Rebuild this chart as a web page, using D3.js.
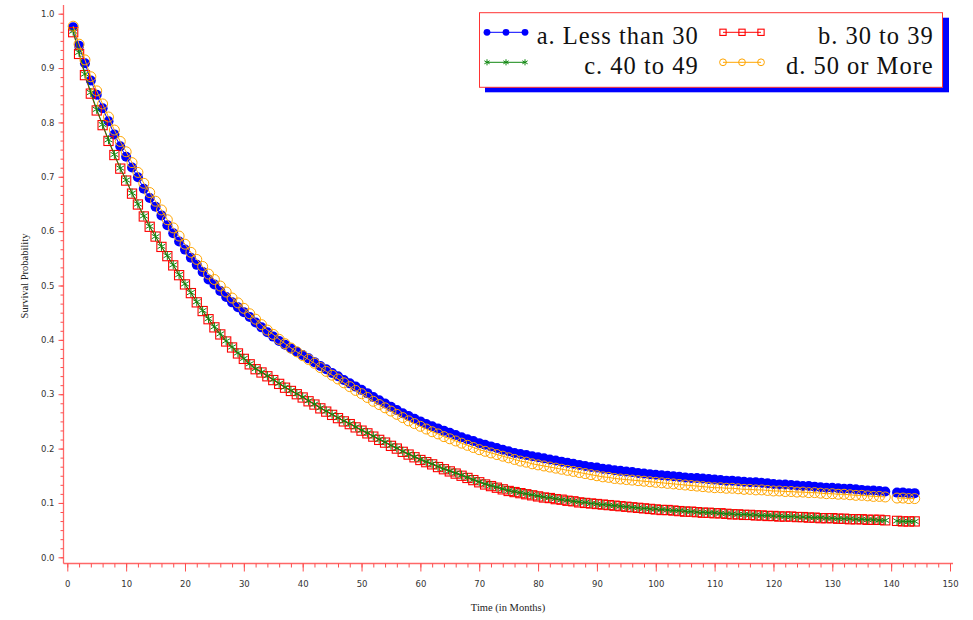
<!DOCTYPE html>
<html><head><meta charset="utf-8">
<script src="https://cdn.jsdelivr.net/npm/d3@7"></script>
<style>body{margin:0;background:#fff}svg{display:block}</style></head>
<body>
<script>
// ---------- data ----------
const months = [1,2,3,4,5,6,7,8,9,10,11,12,13,14,15,16,17,18,19,20,21,22,23,24,25,26,27,28,29,30,
31,32,33,34,35,36,37,38,39,40,41,42,43,44,45,46,47,48,49,50,51,52,53,54,55,56,57,58,59,60,
61,62,63,64,65,66,67,68,69,70,71,72,73,74,75,76,77,78,79,80,81,82,83,84,85,86,87,88,89,90,
91,92,93,94,95,96,97,98,99,100,101,102,103,104,105,106,107,108,109,110,111,112,113,114,115,116,117,118,119,120,
121,122,123,124,125,126,127,128,129,130,131,132,133,134,135,136,137,138,139,141,142,143,144];

const seriesNames = ["a. Less than 30","b. 30 to 39","c. 40 to 49","d. 50 or More"];

const survA = [.975,.941,.909,.877,.851,.826,.802,.778,.756,.737,
.717,.699,.678,.661,.645,.629,.611,.596,.581,.566,
.551,.538,.525,.511,.502,.490,.479,.469,.460,.451,
.442,.432,.423,.414,.406,.398,.391,.384,.378,.372,
.366,.359,.352,.346,.339,.333,.326,.320,.314,.308,
.302,.295,.289,.283,.277,.271,.265,.260,.255,.250,
.245,.241,.237,.233,.229,.225,.221,.217,.214,.210,
.207,.204,.201,.198,.195,.192,.190,.188,.186,.184,
.182,.180,.178,.176,.174,.172,.170,.168,.166,.165,
.163,.162,.160,.159,.158,.157,.155,.154,.153,.152,
.151,.150,.149,.148,.147,.146,.146,.145,.144,.143,
.142,.141,.141,.140,.139,.138,.138,.137,.136,.135,
.134,.134,.133,.132,.131,.131,.130,.129,.128,.128,
.127,.126,.126,.125,.124,.123,.123,.122,.121,
.119,.119,.118,.118];

const survB = [.966,.926,.887,.853,.822,.795,.766,.740,.715,.693,
.669,.649,.627,.608,.590,.571,.554,.537,.519,.502,
.486,.469,.453,.438,.423,.410,.397,.386,.375,.365,
.355,.346,.340,.333,.326,.319,.312,.306,.300,.294,
.287,.281,.274,.268,.262,.256,.250,.245,.239,.233,
.228,.222,.216,.211,.205,.200,.194,.189,.184,.179,
.175,.171,.166,.162,.158,.154,.150,.146,.142,.138,
.134,.131,.128,.125,.122,.120,.118,.116,.114,.112,
.110,.109,.107,.106,.104,.103,.101,.100,.099,.098,
.097,.096,.095,.094,.093,.092,.091,.090,.089,.088,
.087,.087,.086,.085,.084,.084,.083,.082,.082,.081,
.081,.080,.079,.079,.078,.078,.077,.077,.076,.076,
.075,.075,.075,.074,.074,.073,.073,.072,.072,.072,
.071,.071,.070,.070,.070,.069,.069,.069,.068,
.067,.066,.066,.066];

const survC = [.968,.929,.889,.855,.824,.796,.768,.741,.716,.694,
.670,.650,.628,.609,.590,.572,.555,.538,.520,.503,
.487,.470,.454,.439,.424,.411,.398,.387,.376,.366,
.356,.347,.341,.334,.327,.320,.313,.307,.301,.295,
.288,.282,.275,.269,.263,.257,.251,.246,.240,.234,
.229,.223,.217,.212,.206,.201,.195,.190,.185,.180,
.176,.172,.167,.163,.159,.155,.151,.147,.143,.139,
.135,.132,.129,.126,.123,.121,.119,.117,.115,.113,
.111,.110,.108,.106,.105,.103,.102,.101,.099,.098,
.097,.096,.095,.094,.093,.092,.091,.090,.089,.089,
.088,.087,.086,.086,.085,.084,.083,.083,.082,.082,
.081,.080,.080,.079,.079,.078,.078,.077,.077,.076,
.076,.075,.075,.074,.074,.074,.073,.073,.072,.072,
.071,.071,.071,.070,.070,.069,.069,.068,.068,
.067,.066,.066,.066];

const survD = [.977,.944,.915,.884,.858,.834,.810,.786,.765,.746,
.726,.708,.688,.671,.655,.639,.621,.606,.591,.576,
.561,.548,.535,.521,.511,.499,.488,.477,.468,.458,
.448,.438,.428,.418,.410,.401,.393,.385,.378,.371,
.364,.357,.349,.342,.335,.328,.321,.314,.307,.301,
.294,.287,.281,.275,.269,.263,.257,.251,.246,.241,
.236,.231,.227,.222,.218,.214,.210,.206,.202,.198,
.195,.192,.189,.186,.183,.180,.177,.175,.172,.170,
.168,.166,.164,.162,.160,.158,.156,.154,.152,.150,
.148,.147,.145,.144,.143,.142,.141,.140,.139,.138,
.137,.136,.135,.134,.133,.132,.131,.130,.129,.128,
.128,.127,.127,.126,.125,.125,.124,.124,.123,.122,
.122,.121,.121,.120,.120,.119,.119,.118,.117,.117,
.116,.116,.115,.114,.114,.113,.112,.112,.111,
.109,.109,.108,.108];

const xTicks = [0,10,20,30,40,50,60,70,80,90,100,110,120,130,140,150];
const yTicks = [0,0.1,0.2,0.3,0.4,0.5,0.6,0.7,0.8,0.9,1.0];
const xTitle = "Time (in Months)";
const yTitle = "Survival Probability";

// ---------- drawing ----------
const W = 973, H = 620;
const svg = d3.select("body").append("svg").attr("width", W).attr("height", H);

const x = d3.scaleLinear().domain([0,150]).range([67.3,950]);
const y = d3.scaleLinear().domain([0,1]).range([557.3,13.7]);
const axisColor = "#ff4d4d";
const labelColor = "#333";

const yAxisX = 63.5, xAxisY = 563.5;

// y axis
const gy = svg.append("g").attr("transform", `translate(${yAxisX},0)`);
gy.call(d3.axisLeft(y).tickValues(d3.range(0,61).map(i=>i/60)).tickSize(3).tickFormat(""));
gy.call(g=>g.select(".domain").remove());
const gy2 = svg.append("g").attr("transform", `translate(${yAxisX},0)`);
gy2.call(d3.axisLeft(y).tickValues(yTicks).tickSize(5).tickPadding(4).tickFormat(d3.format(".1f")));
gy2.select(".domain").remove();
[gy,gy2].forEach(g=>g.selectAll(".tick line").attr("stroke",axisColor));
gy2.selectAll(".tick text").attr("fill",labelColor).style("font-family","DejaVu Sans, Verdana, sans-serif").style("font-size","8.5px");

// x axis
const gx = svg.append("g").attr("transform", `translate(0,${xAxisY})`);
gx.call(d3.axisBottom(x).tickValues(d3.range(0,151,2)).tickSize(4).tickFormat(""));
gx.select(".domain").remove();
const gx2 = svg.append("g").attr("transform", `translate(0,${xAxisY})`);
gx2.call(d3.axisBottom(x).tickValues(xTicks).tickSize(8).tickPadding(9).tickFormat(d3.format("d")));
gx2.select(".domain").remove();
[gx,gx2].forEach(g=>g.selectAll(".tick line").attr("stroke",axisColor));
gx2.selectAll(".tick text").attr("fill",labelColor).style("font-family","DejaVu Sans, Verdana, sans-serif").style("font-size","8.5px");

// axis lines
svg.append("line").attr("x1",yAxisX).attr("x2",yAxisX).attr("y1",5).attr("y2",xAxisY)
  .attr("stroke",axisColor).attr("stroke-width",1.3).attr("stroke-opacity",0.85);
svg.append("line").attr("x1",yAxisX).attr("x2",953).attr("y1",xAxisY).attr("y2",xAxisY)
  .attr("stroke",axisColor).attr("stroke-width",1.3).attr("stroke-opacity",0.85);

// titles
svg.append("text").attr("transform","translate(28,276) rotate(-90)").attr("text-anchor","middle")
  .style("font-family","Liberation Serif, Times New Roman, serif").style("font-size","10.5px").attr("fill","#222").text(yTitle);
svg.append("text").attr("x",508).attr("y",611).attr("text-anchor","middle")
  .style("font-family","Liberation Serif, Times New Roman, serif").style("font-size","10.5px").attr("fill","#222").text(xTitle);

// marker shapes
function starPath(h){
  const a=h*0.87,b=h*0.5;
  return `M0,${-h}L0,${h}M${-a},${-b}L${a},${b}M${-a},${b}L${a},${-b}`;
}
const styles = [
  {color:"#0000ff", type:"dot"},
  {color:"#ff0000", type:"square"},
  {color:"#118811", type:"star"},
  {color:"#ffa500", type:"circle"}
];
function drawMarker(g, type, color, scale){
  if(type==="dot") g.append("circle").attr("r",5*scale).attr("fill",color).attr("stroke","none");
  else if(type==="square") g.append("rect").attr("x",-4.6*scale).attr("y",-4.6*scale).attr("width",9.2*scale).attr("height",9.2*scale).attr("fill","none").attr("stroke",color).attr("stroke-width",1.1);
  else if(type==="star") g.append("path").attr("d",starPath(4.5*scale)).attr("fill","none").attr("stroke",color).attr("stroke-width",1);
  else g.append("circle").attr("r",5*scale).attr("fill","none").attr("stroke",color).attr("stroke-width",1);
}

const allSeries = [survA,survB,survC,survD];
const plot = svg.append("g");
allSeries.forEach((vals,si)=>{
  const st = styles[si];
  const pts = months.map((m,i)=>({m, v: vals[i]}));
  // break line where a month is missing
  const segs=[]; let cur=[];
  pts.forEach((p,i)=>{ if(i>0 && p.m-pts[i-1].m>1){segs.push(cur);cur=[];} cur.push(p); });
  segs.push(cur);
  const line = d3.line().x(d=>x(d.m)).y(d=>y(d.v));
  const sg = plot.append("g");
  segs.forEach(s=> sg.append("path").attr("d",line(s)).attr("fill","none").attr("stroke",st.color).attr("stroke-width",1));
  pts.forEach(p=>{
    const g = sg.append("g").attr("transform",`translate(${x(p.m)},${y(p.v)})`);
    drawMarker(g, st.type, st.color, 1);
  });
});

// legend
const lg = svg.append("g");
lg.append("rect").attr("x",485).attr("y",17.7).attr("width",464).attr("height",74.6).attr("fill","#0000ff");
lg.append("rect").attr("x",479.5).attr("y",12.7).attr("width",463).attr("height",74.6).attr("fill","#fff").attr("stroke","#ff3333").attr("stroke-width",1);
const legPos = [
  {sx:487, sy:32.3, tx:698.7, ty:44.3},
  {sx:723, sy:32.3, tx:933.7, ty:44.3},
  {sx:487, sy:62.3, tx:698.7, ty:74.3},
  {sx:723, sy:62.3, tx:933.7, ty:74.3}
];
seriesNames.forEach((name,i)=>{
  const p = legPos[i], st = styles[i];
  lg.append("line").attr("x1",p.sx).attr("x2",p.sx+38).attr("y1",p.sy).attr("y2",p.sy).attr("stroke",st.color).attr("stroke-width",1);
  [0,19,38].forEach(dx=>{
    const g = lg.append("g").attr("transform",`translate(${p.sx+dx},${p.sy})`);
    drawMarker(g, st.type, st.color, 0.68);
  });
  lg.append("text").attr("x",p.tx).attr("y",p.ty).attr("text-anchor","end")
    .style("font-family","Liberation Serif, Times New Roman, serif").style("font-size","24.5px")
    .style("letter-spacing","1px").attr("fill","#111").text(name);
});
</script>
</body></html>
